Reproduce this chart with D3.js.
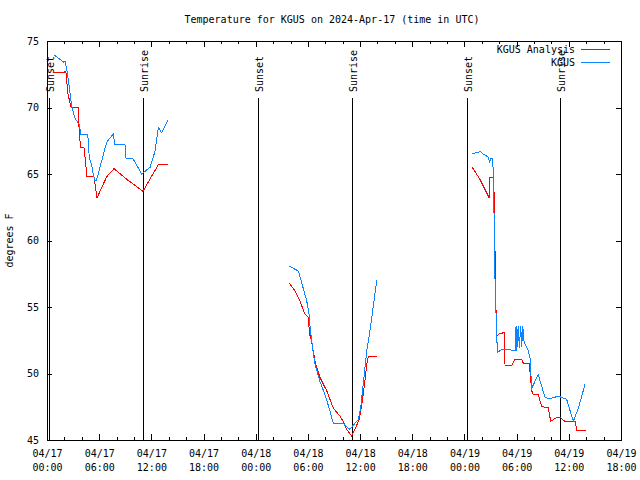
<!DOCTYPE html>
<html><head><meta charset="utf-8">
<script src="https://cdn.jsdelivr.net/npm/d3@7"></script>
<style>
html,body{margin:0;padding:0;background:#fff;}
svg{display:block;}
text{font-family:"DejaVu Sans Mono",monospace;font-size:10px;fill:#000;}
</style></head><body>
<svg id="chart" width="640" height="480"></svg>
<script>
// ---------------- data ----------------
const titleText = "Temperature for KGUS on 2024-Apr-17 (time in UTC)";
const yLabel = "degrees F";
const seriesNames = ["KGUS Analysis", "KGUS"];
const seriesColors = ["#ff0000", "#0a84ff"];

const analysisTimes = [
 "2024-04-17 00:43","2024-04-17 01:52","2024-04-17 02:04","2024-04-17 02:11","2024-04-17 02:25","2024-04-17 02:46",
 "2024-04-17 03:36","2024-04-17 03:43","2024-04-17 03:53","2024-04-17 04:15","2024-04-17 04:26","2024-04-17 04:36",
 "2024-04-17 05:24","2024-04-17 05:45","2024-04-17 06:52","2024-04-17 07:42","2024-04-17 09:10","2024-04-17 11:02",
 "2024-04-17 12:48","2024-04-17 13:57",
 "2024-04-17 20:00",
 "2024-04-18 03:52","2024-04-18 04:31","2024-04-18 05:05","2024-04-18 05:40","2024-04-18 06:03","2024-04-18 06:11",
 "2024-04-18 06:26","2024-04-18 06:49","2024-04-18 07:23","2024-04-18 08:10","2024-04-18 08:55","2024-04-18 09:41",
 "2024-04-18 10:04","2024-04-18 10:28","2024-04-18 11:02","2024-04-18 11:13","2024-04-18 11:55","2024-04-18 12:22",
 "2024-04-18 12:46","2024-04-18 12:57","2024-04-18 13:55",
 "2024-04-18 20:00",
 "2024-04-19 00:52","2024-04-19 01:47","2024-04-19 02:51","2024-04-19 02:56","2024-04-19 03:19","2024-04-19 03:24",
 "2024-04-19 03:29","2024-04-19 03:35","2024-04-19 03:43","2024-04-19 04:01","2024-04-19 04:35","2024-04-19 04:40",
 "2024-04-19 05:26","2024-04-19 05:49","2024-04-19 06:35","2024-04-19 06:46","2024-04-19 07:27","2024-04-19 07:44",
 "2024-04-19 07:55","2024-04-19 08:29","2024-04-19 08:53","2024-04-19 09:38","2024-04-19 09:55","2024-04-19 10:36",
 "2024-04-19 10:59","2024-04-19 11:34","2024-04-19 12:43","2024-04-19 12:55","2024-04-19 13:56"
];
const analysisTemps = [
 72.6,72.6,72.7,72.6,71.0,70.0,
 70.0,67.9,67.0,67.0,65.9,64.8,
 64.8,63.2,64.8,65.4,64.6,63.7,
 65.7,65.7,
 null,
 56.8,56.2,55.45,54.45,54.2,53.0,
 52.4,50.9,49.7,48.7,47.4,46.8,
 46.4,45.8,45.3,45.55,46.55,48.4,
 50.7,51.3,51.3,
 null,
 65.53,64.6,63.2,64.7,64.7,63.6,
 60.7,55.8,52.8,53.0,53.07,50.6,
 50.6,51.07,51.07,50.77,50.77,48.7,
 48.4,48.4,47.5,47.45,46.4,46.7,
 46.7,46.4,46.4,45.75,45.75
];

const obsTimes = [
 "2024-04-17 00:48","2024-04-17 01:57","2024-04-17 02:04","2024-04-17 02:16","2024-04-17 02:34","2024-04-17 02:50",
 "2024-04-17 03:13","2024-04-17 03:43","2024-04-17 03:53","2024-04-17 04:41","2024-04-17 04:52","2024-04-17 05:08",
 "2024-04-17 05:19","2024-04-17 05:31","2024-04-17 05:41","2024-04-17 06:52","2024-04-17 07:37","2024-04-17 07:49",
 "2024-04-17 08:58","2024-04-17 09:05","2024-04-17 09:51","2024-04-17 10:53","2024-04-17 11:04","2024-04-17 11:51",
 "2024-04-17 12:25","2024-04-17 12:48","2024-04-17 13:11","2024-04-17 13:57",
 "2024-04-17 20:00",
 "2024-04-18 03:52","2024-04-18 04:54","2024-04-18 05:05","2024-04-18 05:52","2024-04-18 06:08","2024-04-18 06:15",
 "2024-04-18 06:26","2024-04-18 06:37","2024-04-18 06:49","2024-04-18 07:23","2024-04-18 07:58","2024-04-18 08:32",
 "2024-04-18 08:55","2024-04-18 10:04","2024-04-18 10:16","2024-04-18 10:50","2024-04-18 11:09","2024-04-18 11:48",
 "2024-04-18 12:04","2024-04-18 12:46","2024-04-18 13:08","2024-04-18 13:55",
 "2024-04-18 20:00",
 "2024-04-19 00:52","2024-04-19 01:24","2024-04-19 01:52","2024-04-19 02:10","2024-04-19 02:44","2024-04-19 02:55",
 "2024-04-19 02:58","2024-04-19 03:12","2024-04-19 03:19","2024-04-19 03:26","2024-04-19 03:31","2024-04-19 03:43",
 "2024-04-19 03:48","2024-04-19 04:17","2024-04-19 05:49","2024-04-19 05:56","2024-04-19 06:01","2024-04-19 06:11",
 "2024-04-19 06:19","2024-04-19 06:28","2024-04-19 06:35","2024-04-19 06:42","2024-04-19 06:51","2024-04-19 07:21",
 "2024-04-19 07:32","2024-04-19 07:44","2024-04-19 08:29","2024-04-19 09:16","2024-04-19 09:50","2024-04-19 10:47",
 "2024-04-19 11:11","2024-04-19 11:45","2024-04-19 12:31","2024-04-19 13:06","2024-04-19 13:52"
];
const obsTemps = [
 73.95,73.4,73.5,72.9,71.5,70.1,
 69.2,68.7,68.0,68.0,66.2,65.7,
 65.0,64.5,64.5,67.4,68.0,67.2,
 67.2,66.2,66.2,65.0,65.1,65.5,
 66.7,68.5,68.1,69.1,
 null,
 58.08,57.7,57.3,55.45,54.45,53.5,
 52.5,51.5,50.7,49.4,48.4,47.2,
 46.25,46.25,46.1,45.8,46.05,46.55,
 47.4,51.7,53.2,57.0,
 null,
 66.53,66.6,66.68,66.5,66.28,65.85,
 66.2,66.18,65.28,60.7,56.95,52.7,
 51.6,51.8,51.75,53.6,51.7,53.6,
 51.9,53.6,52.0,53.6,52.4,51.7,
 51.2,48.9,49.9,48.2,48.1,48.3,
 48.2,48.06,46.4,47.4,49.2
];

const sunEventTimes = ["2024-04-17 00:15","2024-04-17 11:04","2024-04-18 00:16","2024-04-18 11:03","2024-04-19 00:17","2024-04-19 11:01"];
const sunEventLabels = ["Sunset","Sunrise","Sunset","Sunrise","Sunset","Sunrise"];

const xTickTimes = ["2024-04-17 00:00","2024-04-17 06:00","2024-04-17 12:00","2024-04-17 18:00",
 "2024-04-18 00:00","2024-04-18 06:00","2024-04-18 12:00","2024-04-18 18:00",
 "2024-04-19 00:00","2024-04-19 06:00","2024-04-19 12:00","2024-04-19 18:00"];
const yTickValues = [45,50,55,60,65,70,75];
const xDomain = ["2024-04-17 00:00","2024-04-19 18:00"];
const yDomain = [45,75];

// ---------------- drawing ----------------
const parse = d3.utcParse("%Y-%m-%d %H:%M");
const svg = d3.select("#chart");
const L = 47, R = 621, T = 41, B = 440;

const x = d3.scaleUtc().domain(xDomain.map(parse)).range([L, R]);
const y = d3.scaleLinear().domain(yDomain).range([B, T]);

const xMajors = xTickTimes.map(parse);
const xMinors = [];
for (let i = 0; i < xMajors.length - 1; i++) {
  const a = +xMajors[i], step = (xMajors[i+1] - xMajors[i]) / 3;
  xMinors.push(new Date(a + step), new Date(a + 2*step));
}

function styleAxis(g) {
  g.select(".domain").remove();
  g.selectAll("line").attr("stroke", "#000").attr("shape-rendering", "crispEdges");
  g.attr("font-family", null).attr("font-size", null);
}

// axes ticks
svg.append("g").attr("transform", `translate(0,${B})`)
  .call(d3.axisBottom(x).tickValues(xMinors).tickSize(-3).tickFormat("")).call(styleAxis);
svg.append("g").attr("transform", `translate(0,${T})`)
  .call(d3.axisTop(x).tickValues(xMinors).tickSize(-3).tickFormat("")).call(styleAxis);
svg.append("g").attr("transform", `translate(0,${T})`)
  .call(d3.axisTop(x).tickValues(xMajors).tickSize(-6).tickFormat("")).call(styleAxis);
const xb = svg.append("g").attr("transform", `translate(0,${B})`)
  .call(d3.axisBottom(x).tickValues(xMajors).tickSize(-6).tickPadding(0).tickFormat(d3.utcFormat("%m/%d")))
  .call(styleAxis);
xb.selectAll(".tick text").each(function(d) {
  const t = d3.select(this);
  t.text(null).attr("y", 0).attr("dy", null);
  t.append("tspan").attr("x", 0).attr("y", 17).text(d3.utcFormat("%m/%d")(d));
  t.append("tspan").attr("x", 0).attr("y", 31).text(d3.utcFormat("%H:%M")(d));
});
svg.append("g").attr("transform", `translate(${L},0)`)
  .call(d3.axisLeft(y).tickValues(yTickValues).tickSize(-5).tickPadding(8).tickFormat(d3.format("d")))
  .call(styleAxis);
svg.append("g").attr("transform", `translate(${R},0)`)
  .call(d3.axisRight(y).tickValues(yTickValues).tickSize(-5).tickFormat("")).call(styleAxis);

// sunrise / sunset lines
const sunG = svg.append("g");
sunEventTimes.forEach((s, i) => {
  const px = Math.round(x(parse(s))) + 0.5;
  sunG.append("line").attr("x1", px).attr("x2", px).attr("y1", 98).attr("y2", B)
    .attr("stroke", "#000").attr("shape-rendering", "crispEdges");
  sunG.append("text").attr("transform", `translate(${px + 4},92) rotate(-90)`)
    .attr("text-anchor", "start").text(sunEventLabels[i]);
});

// frame
svg.append("rect").attr("x", L + 0.5).attr("y", T + 0.5).attr("width", R - L).attr("height", B - T)
  .attr("fill", "none").attr("stroke", "#000").attr("shape-rendering", "crispEdges");

// series
function series(times, temps) {
  return times.map((t, i) => ({ t: parse(t), v: temps[i] }));
}
const line = d3.line().defined(d => d.v != null).x(d => x(d.t)).y(d => y(d.v));
const allSeries = [series(analysisTimes, analysisTemps), series(obsTimes, obsTemps)];
allSeries.forEach((s, i) => {
  svg.append("path").datum(s).attr("d", line).attr("fill", "none")
    .attr("stroke", seriesColors[i]).attr("stroke-width", 1)
    .attr("shape-rendering", "crispEdges");
});

// title and labels
svg.append("text").attr("x", 332).attr("y", 23).attr("text-anchor", "middle").text(titleText);
svg.append("text").attr("transform", `translate(13,${(T + B) / 2}) rotate(-90)`)
  .attr("text-anchor", "middle").text(yLabel);

// legend
seriesNames.forEach((n, i) => {
  const ly = 49 + i * 13;
  svg.append("text").attr("x", 575).attr("y", ly).attr("dy", "0.35em").attr("text-anchor", "end").text(n);
  svg.append("line").attr("x1", 581).attr("x2", 610).attr("y1", ly + 0.5).attr("y2", ly + 0.5)
    .attr("stroke", seriesColors[i]).attr("shape-rendering", "crispEdges");
});
</script>
</body></html>
